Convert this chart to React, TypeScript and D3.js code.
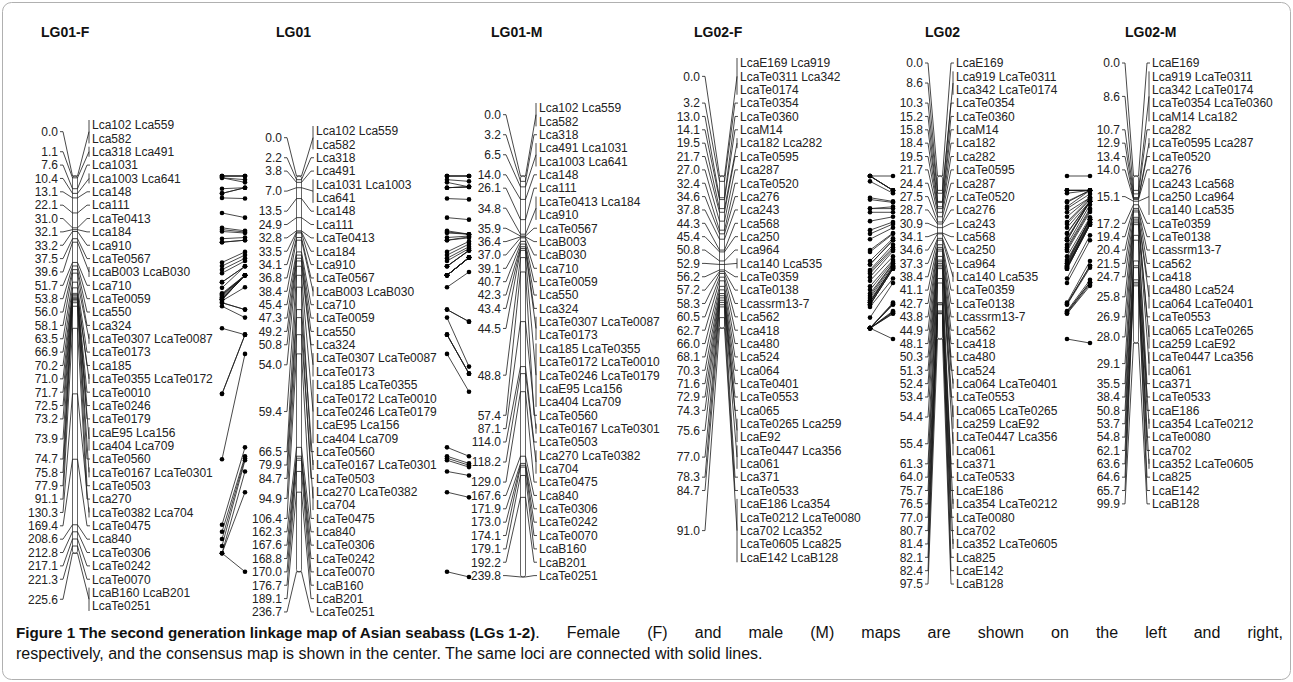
import React from 'react';
import * as d3 from 'd3';

// ---------------- DATA ----------------
const LG01F_POS = [0.0, 1.1, 7.6, 10.4, 13.1, 22.1, 31.0, 32.1, 33.2, 37.5, 39.6, 51.7, 53.8, 56.0, 58.1, 63.5, 66.9, 70.2, 71.0, 71.7, 72.5, 73.2, 73.9, 74.7, 75.8, 77.9, 91.1, 130.3, 169.4, 208.6, 212.8, 217.1, 221.3, 225.6];
const LG01F_MARKERS = ["Lca102 Lca559|Lca582", "Lca318 Lca491", "Lca1031", "Lca1003 Lca641", "Lca148", "Lca111", "LcaTe0413", "Lca184", "Lca910", "LcaTe0567", "LcaB003 LcaB030", "Lca710", "LcaTe0059", "Lca550", "Lca324", "LcaTe0307 LcaTe0087", "LcaTe0173", "Lca185", "LcaTe0355 LcaTe0172", "LcaTe0010", "LcaTe0246", "LcaTe0179", "LcaE95 Lca156|Lca404 Lca709", "LcaTe0560", "LcaTe0167 LcaTe0301", "LcaTe0503", "Lca270", "LcaTe0382 Lca704", "LcaTe0475", "Lca840", "LcaTe0306", "LcaTe0242", "LcaTe0070", "LcaB160 LcaB201|LcaTe0251"];

const LG01_POS = [0.0, 2.2, 3.8, 7.0, 13.5, 24.9, 32.8, 33.5, 34.1, 36.8, 38.4, 45.4, 47.3, 49.2, 50.8, 54.0, 59.4, 66.5, 79.9, 84.7, 94.9, 106.4, 162.3, 167.6, 168.8, 170.0, 176.7, 189.1, 236.7];
const LG01_MARKERS = ["Lca102 Lca559|Lca582", "Lca318", "Lca491", "Lca1031 Lca1003|Lca641", "Lca148", "Lca111", "LcaTe0413", "Lca184", "Lca910", "LcaTe0567", "LcaB003 LcaB030", "Lca710", "LcaTe0059", "Lca550", "Lca324", "LcaTe0307 LcaTe0087|LcaTe0173", "Lca185 LcaTe0355|LcaTe0172 LcaTe0010|LcaTe0246 LcaTe0179|LcaE95 Lca156|Lca404 Lca709", "LcaTe0560", "LcaTe0167 LcaTe0301", "LcaTe0503", "Lca270 LcaTe0382|Lca704", "LcaTe0475", "Lca840", "LcaTe0306", "LcaTe0242", "LcaTe0070", "LcaB160", "LcaB201", "LcaTe0251"];

const LG01M_POS = [0.0, 3.2, 6.5, 14.0, 26.1, 34.8, 35.9, 36.4, 37.0, 39.1, 40.7, 42.3, 43.4, 44.5, 48.8, 57.4, 87.1, 114.0, 118.2, 129.0, 167.6, 171.9, 173.0, 174.1, 179.1, 192.2, 239.8];
const LG01M_MARKERS = ["Lca102 Lca559|Lca582", "Lca318", "Lca491 Lca1031|Lca1003 Lca641", "Lca148", "Lca111", "LcaTe0413 Lca184|Lca910", "LcaTe0567", "LcaB003", "LcaB030", "Lca710", "LcaTe0059", "Lca550", "Lca324", "LcaTe0307 LcaTe0087|LcaTe0173", "Lca185 LcaTe0355|LcaTe0172 LcaTe0010|LcaTe0246 LcaTe0179|LcaE95 Lca156|Lca404 Lca709", "LcaTe0560", "LcaTe0167 LcaTe0301", "LcaTe0503", "Lca270 LcaTe0382|Lca704", "LcaTe0475", "Lca840", "LcaTe0306", "LcaTe0242", "LcaTe0070", "LcaB160", "LcaB201", "LcaTe0251"];

const LG02F_POS = [0.0, 3.2, 13.0, 14.1, 19.5, 21.7, 27.0, 32.4, 34.6, 37.8, 44.3, 45.4, 50.8, 52.9, 56.2, 57.2, 58.3, 60.5, 62.7, 66.0, 68.1, 70.3, 71.6, 72.9, 74.3, 75.6, 77.0, 78.3, 84.7, 91.0];
const LG02F_MARKERS = ["LcaE169 Lca919|LcaTe0311 Lca342|LcaTe0174", "LcaTe0354", "LcaTe0360", "LcaM14", "Lca182 Lca282", "LcaTe0595", "Lca287", "LcaTe0520", "Lca276", "Lca243", "Lca568", "Lca250", "Lca964", "Lca140 Lca535", "LcaTe0359", "LcaTe0138", "Lcassrm13-7", "Lca562", "Lca418", "Lca480", "Lca524", "Lca064", "LcaTe0401", "LcaTe0553", "Lca065", "LcaTe0265 Lca259|LcaE92", "LcaTe0447 Lca356|Lca061", "Lca371", "LcaTe0533", "LcaE186 Lca354|LcaTe0212 LcaTe0080|Lca702 Lca352|LcaTe0605 Lca825|LcaE142 LcaB128"];

const LG02_POS = [0.0, 8.6, 10.3, 15.2, 15.8, 18.4, 19.5, 21.7, 24.4, 27.5, 28.7, 30.9, 34.1, 34.6, 37.3, 38.4, 41.1, 42.7, 43.8, 44.9, 48.1, 50.3, 51.3, 52.4, 53.4, 54.4, 55.4, 61.3, 64.0, 75.7, 76.5, 77.0, 80.7, 81.4, 82.1, 82.4, 97.5];
const LG02_MARKERS = ["LcaE169", "Lca919 LcaTe0311|Lca342 LcaTe0174", "LcaTe0354", "LcaTe0360", "LcaM14", "Lca182", "Lca282", "LcaTe0595", "Lca287", "LcaTe0520", "Lca276", "Lca243", "Lca568", "Lca250", "Lca964", "Lca140 Lca535", "LcaTe0359", "LcaTe0138", "Lcassrm13-7", "Lca562", "Lca418", "Lca480", "Lca524", "Lca064 LcaTe0401", "LcaTe0553", "Lca065 LcaTe0265|Lca259 LcaE92", "LcaTe0447 Lca356|Lca061", "Lca371", "LcaTe0533", "LcaE186", "Lca354 LcaTe0212", "LcaTe0080", "Lca702", "Lca352 LcaTe0605", "Lca825", "LcaE142", "LcaB128"];

const LG02M_POS = [0.0, 8.6, 10.7, 12.9, 13.4, 14.0, 15.1, 17.2, 19.4, 20.4, 21.5, 24.7, 25.8, 26.9, 28.0, 29.1, 35.5, 38.4, 50.8, 53.7, 54.8, 62.1, 63.6, 64.6, 65.7, 99.9];
const LG02M_MARKERS = ["LcaE169", "Lca919 LcaTe0311|Lca342 LcaTe0174|LcaTe0354 LcaTe0360|LcaM14 Lca182", "Lca282", "LcaTe0595 Lca287", "LcaTe0520", "Lca276", "Lca243 Lca568|Lca250 Lca964|Lca140 Lca535", "LcaTe0359", "LcaTe0138", "Lcassrm13-7", "Lca562", "Lca418", "Lca480 Lca524|Lca064 LcaTe0401", "LcaTe0553", "Lca065 LcaTe0265|Lca259 LcaE92", "LcaTe0447 Lca356|Lca061", "Lca371", "LcaTe0533", "LcaE186", "Lca354 LcaTe0212", "LcaTe0080", "Lca702", "Lca352 LcaTe0605", "Lca825", "LcaE142", "LcaB128"];

const TITLES = ["LG01-F", "LG01", "LG01-M", "LG02-F", "LG02", "LG02-M"];

const CAPTION_BOLD = "Figure 1 The second generation linkage map of Asian seabass (LGs 1-2)";
const CAPTION_1 = ". Female (F) and male (M) maps are shown on the left and right,";
const CAPTION_2 = "respectively, and the consensus map is shown in the center. The same loci are connected with solid lines.";

// ---------------- LAYOUT ----------------
const W = 1293, H = 682;
const ROW = 13.36;
const CHROM_W = 5;
const y = d3.scaleLinear().domain([0, 240]).range([176, 176 + 240 * 1.672]);

type Col = { title: string; titleX: number; labelEnd: number; chromX: number; textStart: number; rowTop: number; pos: number[]; markers: string[] };

const COLS: Col[] = [
  { title: TITLES[0], titleX: 41, labelEnd: 58, chromX: 75, textStart: 92, rowTop: 125, pos: LG01F_POS, markers: LG01F_MARKERS },
  { title: TITLES[1], titleX: 276, labelEnd: 282, chromX: 299, textStart: 316, rowTop: 131, pos: LG01_POS, markers: LG01_MARKERS },
  { title: TITLES[2], titleX: 491, labelEnd: 501, chromX: 523, textStart: 539, rowTop: 108, pos: LG01M_POS, markers: LG01M_MARKERS },
  { title: TITLES[3], titleX: 694, labelEnd: 700, chromX: 722, textStart: 740, rowTop: 63, pos: LG02F_POS, markers: LG02F_MARKERS },
  { title: TITLES[4], titleX: 925, labelEnd: 923, chromX: 940, textStart: 956, rowTop: 63, pos: LG02_POS, markers: LG02_MARKERS },
  { title: TITLES[5], titleX: 1125, labelEnd: 1120, chromX: 1136, textStart: 1152, rowTop: 63, pos: LG02M_POS, markers: LG02M_MARKERS },
];

const PANELS: [number, number, number, number][] = [
  [0, 1, 222, 245],
  [1, 2, 447, 469],
  [3, 4, 870, 893],
  [4, 5, 1067, 1090],
];

function markerPos(col: Col): Map<string, number> {
  const m = new Map<string, number>();
  col.markers.forEach((g, i) => {
    g.split('|').forEach(r => r.split(' ').forEach(n => m.set(n, col.pos[i])));
  });
  return m;
}

const STROKE = '#1a1a1a';
const FONT = '"Liberation Sans", Arial, Helvetica, sans-serif';

function Column({ col }: { col: Col }) {
  let rowIdx = 0;
  const left = col.chromX - CHROM_W / 2;
  const right = col.chromX + CHROM_W / 2;
  const maxPos = col.pos[col.pos.length - 1];
  const elems: React.ReactNode[] = [];
  col.markers.forEach((g, i) => {
    const rows = g.split('|');
    const ys = rows.map((_, k) => col.rowTop + (rowIdx + k) * ROW);
    rowIdx += rows.length;
    const ly = d3.mean(ys) as number;
    const cy = y(col.pos[i]);
    const multi = rows.length > 1 || rows[0].includes(' ');
    elems.push(
      <path key={`lc${i}`} d={`M${col.labelEnd + 2},${ly}H${col.labelEnd + 5}L${left},${cy}`} fill="none" stroke={STROKE} strokeWidth={0.8} />
    );
    elems.push(
      <text key={`lt${i}`} x={col.labelEnd} y={ly} dy="0.36em" textAnchor="end" fontSize={12} fill="#222">{col.pos[i].toFixed(1)}</text>
    );
    const bx = col.textStart - 3;
    if (multi) {
      elems.push(<path key={`rb${i}`} d={`M${bx},${ys[0] - 5}V${ys[ys.length - 1] + 5}`} stroke={STROKE} strokeWidth={0.8} />);
      elems.push(<path key={`rc${i}`} d={`M${right},${cy}L${bx},${ly}`} fill="none" stroke={STROKE} strokeWidth={0.8} />);
    } else {
      elems.push(<path key={`rc${i}`} d={`M${right},${cy}L${col.textStart - 5},${ly}H${col.textStart - 2}`} fill="none" stroke={STROKE} strokeWidth={0.8} />);
    }
    rows.forEach((r, k) => {
      elems.push(<text key={`rt${i}_${k}`} x={col.textStart} y={ys[k]} dy="0.36em" fontSize={12} fill="#222">{r}</text>);
    });
  });
  return (
    <g fontFamily={FONT}>
      <text x={col.titleX} y={37} fontSize={14} fontWeight="bold" fill="#111">{col.title}</text>
      <rect x={left} y={y(0)} width={CHROM_W} height={y(maxPos) - y(0)} rx={2} fill="#fff" stroke="#555" strokeWidth={0.9} />
      {col.pos.map((p, i) => (
        <line key={`tk${i}`} x1={left} x2={right} y1={y(p)} y2={y(p)} stroke={STROKE} strokeWidth={0.8} />
      ))}
      {elems}
    </g>
  );
}

function Panel({ p }: { p: [number, number, number, number] }) {
  const [li, ri, xl, xr] = p;
  const lm = markerPos(COLS[li]);
  const rm = markerPos(COLS[ri]);
  const pairs: [number, number][] = [];
  lm.forEach((v, k) => { if (rm.has(k)) pairs.push([v, rm.get(k) as number]); });
  return (
    <g>
      {pairs.map(([a, b], i) => (
        <line key={`pl${i}`} x1={xl} y1={y(a)} x2={xr} y2={y(b)} stroke={STROKE} strokeWidth={0.8} />
      ))}
      {pairs.map(([a, b], i) => (
        <g key={`pd${i}`}>
          <circle cx={xl} cy={y(a)} r={2.3} fill="#000" />
          <circle cx={xr} cy={y(b)} r={2.3} fill="#000" />
        </g>
      ))}
    </g>
  );
}

function Caption() {
  const boldRef = React.useRef<SVGTSpanElement>(null);
  const normRef = React.useRef<SVGTSpanElement>(null);
  const [ws, setWs] = React.useState(0);
  React.useLayoutEffect(() => {
    const b = boldRef.current, n = normRef.current;
    if (!b || !n) return;
    const bl = b.getComputedTextLength();
    const nl = n.getComputedTextLength();
    const spaces = (CAPTION_1.match(/ /g) || []).length;
    const target = 1283 - 16;
    if (spaces > 0) setWs(Math.max(0, (target - bl - nl) / spaces));
  }, []);
  return (
    <g fontFamily={FONT} fontSize={16} fill="#111">
      <text x={16} y={638}>
        <tspan ref={boldRef} fontWeight="bold" fontSize={15.2}>{CAPTION_BOLD}</tspan>
        <tspan ref={normRef} wordSpacing={ws}>{CAPTION_1}</tspan>
      </text>
      <text x={16} y={659}>{CAPTION_2}</text>
    </g>
  );
}

export default function App() {
  return (
    <div style={{ position: 'absolute', left: 0, top: 0 }}>
      <svg width={W} height={H} viewBox={`0 0 ${W} ${H}`} style={{ display: 'block', background: '#fff' }}>
        <defs>
          <clipPath id="frameClip"><rect x={0} y={0} width={1284} height={H} /></clipPath>
        </defs>
        <rect x={2.5} y={2.5} width={W - 5} height={H - 5} rx={9} fill="none" stroke="#b0b0b0" strokeWidth={1} />
        <g clipPath="url(#frameClip)">
          {PANELS.map((p, i) => <Panel key={i} p={p} />)}
          {COLS.map((c, i) => <Column key={i} col={c} />)}
        </g>
        <Caption />
      </svg>
    </div>
  );
}
